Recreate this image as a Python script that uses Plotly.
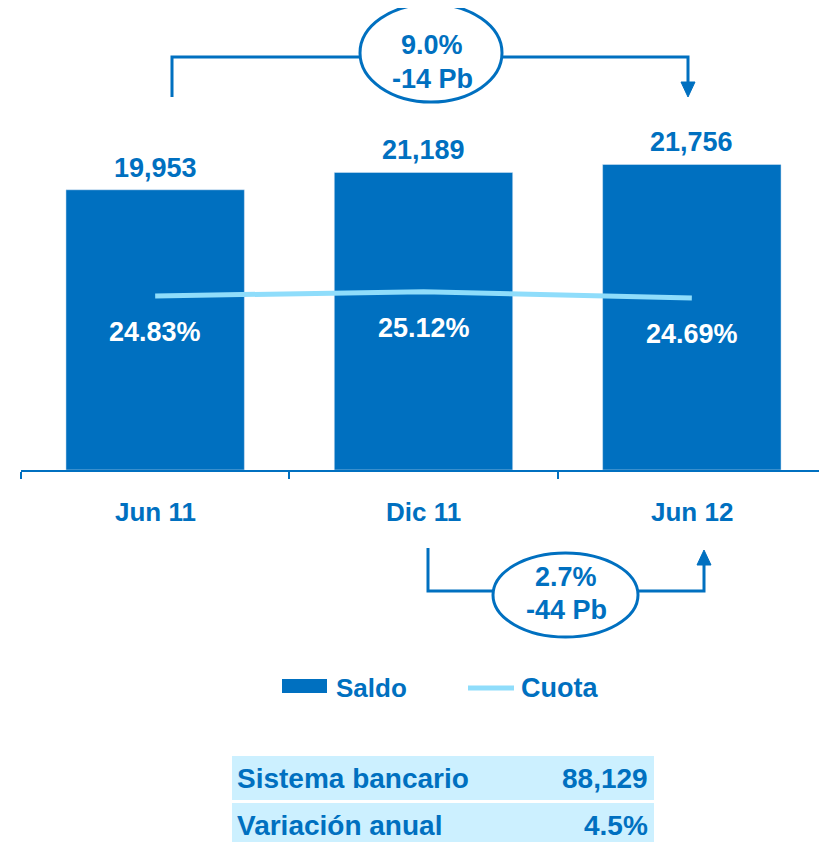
import plotly.graph_objects as go

# ---- data ----
categories = ["Jun 11", "Dic 11", "Jun 12"]
saldo = [19953, 21189, 21756]
cuota = [24.83, 25.12, 24.69]
saldo_labels = ["19,953", "21,189", "21,756"]
cuota_labels = ["24.83%", "25.12%", "24.69%"]
var_top = ["9.0%", "-14 Pb"]
var_bottom = ["2.7%", "-44 Pb"]
table_labels = ["Sistema bancario", "Variación anual"]
table_values = ["88,129", "4.5%"]

W, H = 827, 842
OFF = 8  # page body margin
BLUE = "#0070C0"
LIGHT = "#8FDDFB"
TABLE_BG = "#CCF0FF"
FONT = "Liberation Sans, Arial, sans-serif"


def px(x):
    return (x - OFF) / W


def py(y):
    return 1 - (y - OFF) / H


def txt(text, x, y, size, color=BLUE, xanchor="center", xref="paper", yref="paper",
        yshift=0, yanchor="middle"):
    return dict(x=x, y=y, xref=xref, yref=yref, text=f"<b>{text}</b>", showarrow=False,
                xanchor=xanchor, yanchor=yanchor, yshift=yshift,
                font=dict(size=size, color=color, family=FONT))


fig = go.Figure()
fig.add_trace(go.Bar(x=categories, y=saldo, name="Saldo", marker_color=BLUE,
                     width=0.665, yaxis="y"))
fig.add_trace(go.Scatter(x=categories, y=cuota, name="Cuota", mode="lines",
                         line=dict(color=LIGHT, width=5), yaxis="y2"))

annotations = []
for c, v, t in zip(categories, saldo, saldo_labels):
    annotations.append(txt(t, c, v, 27, xref="x", yref="y", yanchor="bottom", yshift=5))
for c, v, t in zip(categories, cuota, cuota_labels):
    annotations.append(txt(t, c, v, 27, color="white", xref="x", yref="y2", yshift=-36))
for c in categories:
    annotations.append(txt(c, c, py(512), 26, xref="x"))

shapes = []
line_style = dict(color=BLUE, width=3)

# top bracket
shapes.append(dict(type="path", xref="paper", yref="paper",
                   path=f"M{px(172)},{py(97)} L{px(172)},{py(57)} L{px(688)},{py(57)} L{px(688)},{py(83)}",
                   line=line_style))
shapes.append(dict(type="path", xref="paper", yref="paper",
                   path=f"M{px(681)},{py(82)} L{px(695)},{py(82)} L{px(688)},{py(97)} Z",
                   fillcolor=BLUE, line=dict(color=BLUE, width=1)))
shapes.append(dict(type="circle", xref="paper", yref="paper",
                   x0=px(360), x1=px(502), y0=py(102), y1=py(4),
                   fillcolor="white", line=line_style))
annotations.append(txt(var_top[0], px(432), py(45), 27))
annotations.append(txt(var_top[1], px(432), py(79), 27))

# bottom bracket
shapes.append(dict(type="path", xref="paper", yref="paper",
                   path=f"M{px(428)},{py(548)} L{px(428)},{py(591)} L{px(704)},{py(591)} L{px(704)},{py(564)}",
                   line=line_style))
shapes.append(dict(type="path", xref="paper", yref="paper",
                   path=f"M{px(697)},{py(565)} L{px(711)},{py(565)} L{px(704)},{py(550)} Z",
                   fillcolor=BLUE, line=dict(color=BLUE, width=1)))
shapes.append(dict(type="circle", xref="paper", yref="paper",
                   x0=px(493), x1=px(638), y0=py(637), y1=py(553),
                   fillcolor="white", line=line_style))
annotations.append(txt(var_bottom[0], px(566), py(577), 27))
annotations.append(txt(var_bottom[1], px(566), py(610), 27))

# custom legend
shapes.append(dict(type="rect", xref="paper", yref="paper",
                   x0=px(282), x1=px(327), y0=py(693), y1=py(679),
                   fillcolor=BLUE, line=dict(width=0)))
annotations.append(txt("Saldo", px(334), py(688), 26, xanchor="left"))
shapes.append(dict(type="line", xref="paper", yref="paper",
                   x0=px(468), x1=px(514), y0=py(688), y1=py(688),
                   line=dict(color=LIGHT, width=5)))
annotations.append(txt("Cuota", px(519), py(688), 27, xanchor="left"))

# table
rows_y = [(756, 800), (803, 850)]
text_y = [778, 825]
for (y0, y1), yc, lab, val in zip(rows_y, text_y, table_labels, table_values):
    shapes.append(dict(type="rect", xref="paper", yref="paper",
                       x0=px(232), x1=px(654), y0=py(y1), y1=py(y0),
                       fillcolor=TABLE_BG, line=dict(width=0), layer="below"))
    annotations.append(txt(lab, px(235), py(yc), 28, xanchor="left"))
    annotations.append(txt(val, px(650), py(yc), 28, xanchor="right"))

y_top_px, y_bot_px = 60, 470
plot_h = y_bot_px - y_top_px
fig.update_layout(
    width=W, height=H,
    margin=dict(l=0, r=0, t=0, b=0),
    paper_bgcolor="white", plot_bgcolor="white",
    showlegend=False,
    font=dict(family=FONT, color=BLUE),
    xaxis=dict(domain=[px(21), px(826)], range=[-0.5, 2.5], type="category",
               showline=True, linecolor=BLUE, linewidth=2,
               ticks="outside", tickson="boundaries", ticklen=7, tickwidth=2,
               tickcolor=BLUE, showticklabels=False, showgrid=False, zeroline=False),
    yaxis=dict(domain=[py(y_bot_px), py(y_top_px)], range=[0, plot_h * 71.2],
               visible=False, showgrid=False, zeroline=False),
    yaxis2=dict(domain=[py(y_bot_px), py(y_top_px)], overlaying="y",
                range=[24.83 - 174 / 15, 24.83 - 174 / 15 + plot_h / 15],
                visible=False, showgrid=False, zeroline=False),
    shapes=shapes,
    annotations=annotations,
)

fig.write_html("out.html")
